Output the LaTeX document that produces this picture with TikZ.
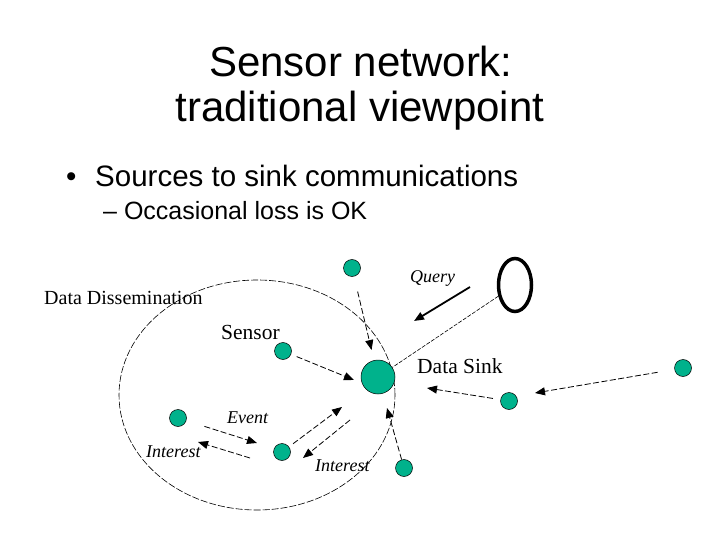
\documentclass[tikz,border=0pt]{standalone}
\usepackage{fontspec}
\setmainfont{Liberation Serif}
\setsansfont{Liberation Sans}
\usetikzlibrary{arrows.meta,shapes.geometric}
\definecolor{sensorgreen}{RGB}{0,178,140}

\begin{document}
\begin{tikzpicture}[x=1pt,y=-1pt,
    slidetitle/.style={inner sep=0pt,anchor=base,font=\sffamily\fontsize{42}{46}\selectfont},
    bulletline/.style={inner sep=0pt,anchor=base west,font=\sffamily\fontsize{29.5}{34}\selectfont},
    subline/.style={inner sep=0pt,anchor=base west,font=\sffamily\fontsize{25}{29}\selectfont},
    lbl/.style={inner sep=0pt,font=\rmfamily\fontsize{21.5}{24}\selectfont},
    ilbl/.style={inner sep=0pt,font=\rmfamily\itshape\fontsize{18}{20}\selectfont},
    mote/.style={circle,draw,line width=0.5pt,fill=sensorgreen,inner sep=0pt,minimum size=17pt},
    flow/.style={dash pattern=on 6pt off 2.5pt,line width=0.8pt,-{Triangle[length=10pt,width=8pt]}}]
  \useasboundingbox (0,0) rectangle (720,540);

  % title and bullets
  \node[slidetitle] (title1) at (361,77) {Sensor network:};
  \node[slidetitle] (title2) at (360,122) {traditional viewpoint};
  \node[bulletline] (dot) at (66,187) {•};
  \node[bulletline] (point) at (95,187) {Sources to sink communications};
  \node[subline] (subpoint) at (103,219) {– Occasional loss is OK};

  % dissemination region
  \draw[dash pattern=on 7pt off 2pt,line width=0.6pt] (257,395) ellipse[x radius=138pt,y radius=115pt];

  % sensors, sink and user
  \node[mote] (top) at (352,268) {};
  \node[mote] (sensor) at (283,351) {};
  \node[mote,minimum size=34pt] (sink) at (378,377) {};
  \node[mote] (left) at (178,418) {};
  \node[mote] (mid) at (282,452) {};
  \node[mote] (low) at (404,468) {};
  \node[mote] (near) at (509,401) {};
  \node[mote] (far) at (683,368) {};
  \node[ellipse,draw,line width=3.5pt,inner sep=0pt,minimum width=33pt,minimum height=53pt] (user) at (515,285) {};

  % labels
  \node[lbl,font=\rmfamily\fontsize{20}{22}\selectfont,anchor=base west] (dissem) at (44,304) {Data Dissemination};
  \node[lbl,anchor=base west] (sensorlbl) at (221,339) {Sensor};
  \node[lbl,anchor=base west] (sinklbl) at (417,373) {Data Sink};
  \node[ilbl,anchor=base west] (query) at (410,282) {Query};
  \node[ilbl,anchor=base west] (event) at (227,423) {Event};
  \node[ilbl,anchor=base west] (interestA) at (146,457) {Interest};
  \node[ilbl,anchor=base west] (interestB) at (315,471) {Interest};

  % free ends
  \coordinate (tipSensor) at (354,380);
  \coordinate (tipFar) at (535,393);
  \coordinate (tipNear) at (427,388);
  \coordinate (tipEvent) at (257,443);
  \coordinate (fromInterestA) at (250,458);
  \coordinate (tipInterestA) at (198,442);
  \coordinate (tipMid) at (342,407);
  \coordinate (fromInterestB) at (350,420);
  \coordinate (tipInterestB) at (303,458);
  \coordinate (tipLow) at (387,408);
  \coordinate (fromQuery) at (470,287);
  \coordinate (tipQuery) at (414,321);

  % connectors
  \draw[flow,shorten <=15.5pt,shorten >=10.5pt] (top) -- (sink);
  \draw[flow,shorten <=6pt] (sensor) -- (tipSensor);
  \draw[flow,shorten <=17pt] (far) -- (tipFar);
  \draw[flow,shorten <=7.5pt] (near) -- (tipNear);
  \draw[flow,shorten <=19pt] (left) -- (tipEvent);
  \draw[flow] (fromInterestA) -- (tipInterestA);
  \draw[flow,shorten <=5pt] (mid) -- (tipMid);
  \draw[flow] (fromInterestB) -- (tipInterestB);
  \draw[flow] (low) -- (tipLow);
  \draw[line width=1.8pt,-{Triangle[length=10pt,width=8pt]}] (fromQuery) -- (tipQuery);
  \draw[dash pattern=on 4pt off 1.5pt,line width=0.6pt] (user) -- (sink);
\end{tikzpicture}
\end{document}
